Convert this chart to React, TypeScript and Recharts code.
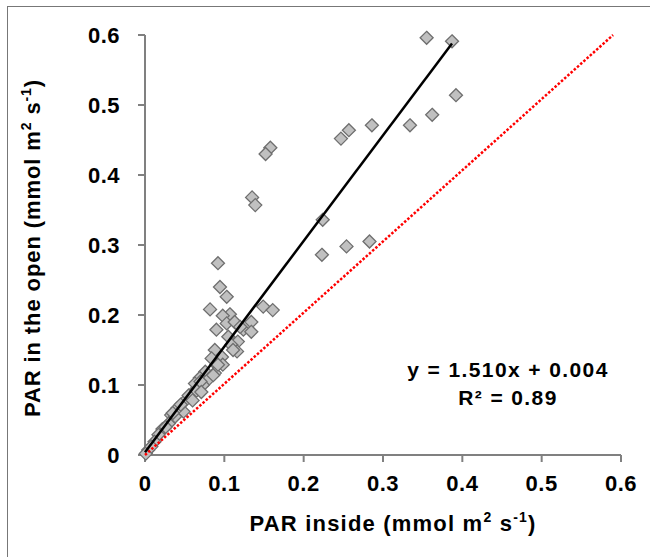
import { Scatter, ScatterChart, XAxis, YAxis } from "recharts";

// PAR inside (x) vs PAR in the open (y), mmol m2 s-1
const parInside = [
  0.355, 0.387, 0.392, 0.362, 0.334, 0.286, 0.257, 0.247, 0.158, 0.152,
  0.135, 0.139, 0.224, 0.223, 0.254, 0.283, 0.092, 0.0945, 0.103, 0.082,
  0.149, 0.161, 0.107, 0.098, 0.090, 0.103, 0.113, 0.134, 0.124, 0.134,
  0.105, 0.117, 0.109, 0.088, 0.116, 0.097, 0.084, 0.090, 0.098, 0.076,
  0.088, 0.069, 0.079, 0.063, 0.073, 0.059, 0.051, 0.0485, 0.041, 0.033,
  0.030, 0.022, 0.017, 0.012, 0.004, 0.001, 0.045, 0.055, 0.038, 0.026,
  0.008, 0.065, 0.070, 0.060, 0.120, 0.111, 0.086, 0.071, 0.035, 0.092,
];
const parOpen = [
  0.596, 0.591, 0.514, 0.486, 0.471, 0.471, 0.464, 0.452, 0.439, 0.430,
  0.368, 0.357, 0.336, 0.286, 0.298, 0.305, 0.274, 0.240, 0.226, 0.208,
  0.212, 0.207, 0.201, 0.199, 0.179, 0.188, 0.190, 0.190, 0.179, 0.176,
  0.169, 0.162, 0.157, 0.150, 0.148, 0.140, 0.138, 0.129, 0.129, 0.119,
  0.117, 0.110, 0.107, 0.102, 0.100, 0.088, 0.078, 0.062, 0.067, 0.057,
  0.045, 0.037, 0.029, 0.019, 0.007, 0.002, 0.072, 0.085, 0.055, 0.040,
  0.012, 0.092, 0.105, 0.078, 0.183, 0.150, 0.114, 0.090, 0.060, 0.129,
];
const axisTicks = [0, 0.1, 0.2, 0.3, 0.4, 0.5, 0.6];

// y = 1.510x + 0.004 over the data range
const fitLine = [
  { x: 0, y: 0.004 },
  { x: 0.387, y: 0.588 },
];
// 1:1 line
const oneToOne = [
  { x: 0, y: 0 },
  { x: 0.59, y: 0.6 },
];

const points = parInside.map((x, i) => ({ x, y: parOpen[i] }));

const FONT = "'Liberation Sans', Arial, sans-serif";
const tickStyle = { fontSize: 22, fontWeight: 700, fill: "#000", fontFamily: FONT, letterSpacing: 0.5 };

function Diamond(props: any) {
  const { cx, cy } = props;
  const r = 6.5;
  return (
    <polygon
      points={`${cx},${cy - r} ${cx + r},${cy} ${cx},${cy + r} ${cx - r},${cy}`}
      fill="#c0c0c0"
      stroke="#6e6e6e"
      strokeWidth={1.3}
    />
  );
}

const noDot = () => <g />;

export default function App() {
  return (
    <div style={{ position: "absolute", left: 0, top: 0, width: 650, height: 557, background: "#fff", fontFamily: FONT }}>
      <div style={{ position: "absolute", left: 7, top: 6, right: 0, bottom: 0, borderLeft: "1px solid #777", borderTop: "1px solid #777" }} />
      <ScatterChart width={650} height={557} margin={{ top: 35, right: 29, bottom: 72, left: 0 }}>
        <XAxis
          type="number"
          dataKey="x"
          domain={[0, 0.6]}
          ticks={axisTicks}
          tick={tickStyle}
          tickSize={7}
          tickMargin={13}
          height={30}
          stroke="#808080"
          strokeWidth={2}
        />
        <YAxis
          type="number"
          dataKey="y"
          domain={[0, 0.6]}
          ticks={axisTicks}
          tick={tickStyle}
          tickSize={7}
          tickMargin={18}
          width={145}
          stroke="#808080"
          strokeWidth={2}
        />
        <Scatter data={points} shape={Diamond} isAnimationActive={false} />
        <Scatter
          data={oneToOne}
          shape={noDot}
          line={{ stroke: "#ff0000", strokeWidth: 2.5, strokeDasharray: "2.5 1.8" }}
          isAnimationActive={false}
        />
        <Scatter
          data={fitLine}
          shape={noDot}
          line={{ stroke: "#000", strokeWidth: 2.5 }}
          isAnimationActive={false}
        />
      </ScatterChart>
      <div
        style={{
          position: "absolute",
          left: 32,
          top: 248,
          transform: "translate(-50%, -50%) rotate(-90deg)",
          whiteSpace: "nowrap",
          fontSize: 22,
          fontWeight: 700,
          letterSpacing: 0.9,
        }}
      >
        PAR in the open (mmol m<sup style={{ fontSize: 14 }}>2</sup> s<sup style={{ fontSize: 14 }}>-1</sup>)
      </div>
      <div
        style={{
          position: "absolute",
          left: 393,
          top: 523,
          transform: "translate(-50%, -50%)",
          whiteSpace: "nowrap",
          fontSize: 22,
          fontWeight: 700,
          letterSpacing: 1.2,
        }}
      >
        PAR inside (mmol m<sup style={{ fontSize: 14 }}>2</sup> s<sup style={{ fontSize: 14 }}>-1</sup>)
      </div>
      <div
        style={{
          position: "absolute",
          left: 508,
          top: 384,
          transform: "translate(-50%, -50%)",
          textAlign: "center",
          whiteSpace: "nowrap",
          fontSize: 21,
          fontWeight: 700,
          letterSpacing: 1.4,
          lineHeight: "28px",
        }}
      >
        <div>y = 1.510x + 0.004</div>
        <div>R² = 0.89</div>
      </div>
    </div>
  );
}
